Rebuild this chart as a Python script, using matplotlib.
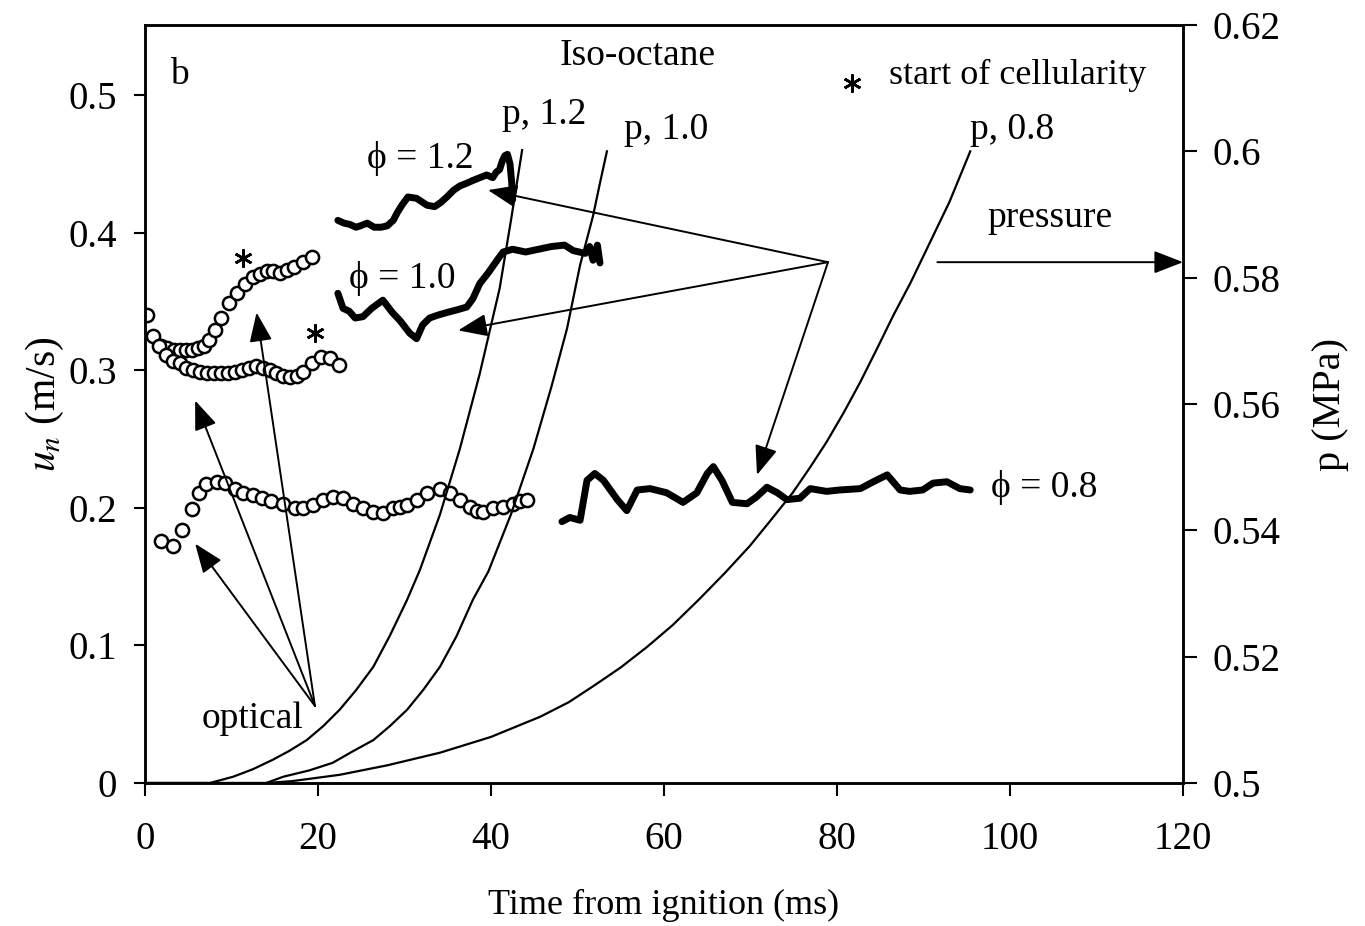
import matplotlib
matplotlib.use("Agg")
import matplotlib.pyplot as plt

plt.rcParams['font.family'] = ['Liberation Serif', 'DejaVu Serif']
plt.rcParams['mathtext.fontset'] = 'stix'

# optical flame speeds (circles)
opt12_t = [0.2, 0.9, 1.8, 2.6, 3.3, 4.0, 4.7, 5.4, 6.1, 6.8, 7.4, 8.1, 8.8, 9.7, 10.6, 11.6,
           12.5, 13.3, 14.1, 14.8, 15.6, 16.4, 17.2, 18.3, 19.3]
opt12_u = [0.340, 0.325, 0.318, 0.316, 0.315, 0.315, 0.315, 0.315, 0.316, 0.318, 0.322, 0.329,
           0.338, 0.349, 0.356, 0.363, 0.368, 0.370, 0.372, 0.372, 0.371, 0.373, 0.375, 0.379, 0.382]
opt10_t = [1.6, 2.4, 3.2, 4.0, 4.8, 5.6, 6.4, 7.2, 8.0, 8.8, 9.6, 10.4, 11.2, 12.0, 12.8, 13.6,
           14.4, 15.2, 16.0, 16.8, 17.6, 18.3, 19.3, 20.4, 21.4, 22.4]
opt10_u = [0.318, 0.311, 0.307, 0.305, 0.302, 0.300, 0.299, 0.298, 0.298, 0.298, 0.298, 0.299,
           0.300, 0.302, 0.303, 0.302, 0.300, 0.298, 0.296, 0.295, 0.296, 0.299, 0.305, 0.310,
           0.309, 0.304]
opt08_t = [1.9, 3.2, 4.3, 5.4, 6.3, 7.1, 8.3, 9.2, 10.4, 11.3, 12.5, 13.5, 14.6, 16.0, 17.3, 18.3,
           19.4, 20.6, 21.7, 22.9, 24.0, 25.2, 26.4, 27.5, 28.7, 29.5, 30.3, 31.4, 32.6, 34.1,
           35.3, 36.4, 37.6, 38.4, 39.1, 40.2, 41.4, 42.5, 43.3, 44.2]
opt08_u = [0.176, 0.172, 0.184, 0.199, 0.211, 0.217, 0.219, 0.218, 0.214, 0.211, 0.209, 0.207,
           0.205, 0.203, 0.200, 0.200, 0.202, 0.206, 0.208, 0.207, 0.203, 0.200, 0.197, 0.196,
           0.200, 0.201, 0.202, 0.206, 0.211, 0.214, 0.211, 0.206, 0.201, 0.198, 0.197, 0.200,
           0.201, 0.203, 0.205, 0.206]

# start of cellularity
star_t = [11.3, 19.65]
star_u = [0.3815, 0.327]

# flame speeds from pressure (thick lines)
pr12_t = [22.3, 23.0, 23.7, 24.4, 24.9, 25.7, 26.5, 27.3, 28.0, 28.7, 29.2, 29.7, 30.4, 31.4,
          32.6, 33.5, 34.2, 34.9, 35.7, 36.4, 37.2, 37.9, 38.7, 39.5, 40.2, 40.6, 41.0, 41.3,
          41.6, 41.9, 42.2, 42.4, 42.5]
pr12_u = [0.409, 0.407, 0.406, 0.404, 0.405, 0.407, 0.404, 0.404, 0.405, 0.409, 0.415, 0.420,
          0.426, 0.425, 0.420, 0.419, 0.422, 0.426, 0.431, 0.434, 0.436, 0.438, 0.440, 0.442,
          0.440, 0.444, 0.446, 0.452, 0.456, 0.457, 0.450, 0.436, 0.424]
pr10_t = [22.3, 22.9, 23.6, 24.3, 25.2, 26.2, 27.5, 28.6, 29.5, 30.6, 31.4, 32.1, 32.9, 33.8,
          34.9, 36.1, 37.2, 37.9, 38.7, 39.7, 40.7, 41.4, 42.5, 44.0, 45.5, 47.0, 48.5, 49.5,
          50.9, 51.4, 51.8, 52.3, 52.6]
pr10_u = [0.356, 0.345, 0.343, 0.338, 0.339, 0.345, 0.351, 0.342, 0.336, 0.327, 0.323, 0.333,
          0.338, 0.340, 0.342, 0.344, 0.346, 0.352, 0.363, 0.371, 0.380, 0.386, 0.388, 0.386,
          0.388, 0.390, 0.391, 0.387, 0.385, 0.390, 0.380, 0.391, 0.378]
pr08_t = [48.2, 49.1, 50.3, 51.1, 52.0, 53.0, 54.6, 55.7, 56.9, 58.4, 60.3, 62.2, 63.8, 65.0,
          65.7, 66.7, 67.9, 69.6, 70.7, 71.9, 73.1, 74.2, 75.7, 76.9, 78.8, 80.3, 82.7, 84.2,
          85.8, 87.3, 88.4, 89.9, 91.1, 92.7, 94.2, 95.4]
pr08_u = [0.190, 0.193, 0.191, 0.220, 0.225, 0.220, 0.206, 0.198, 0.213, 0.214, 0.211, 0.204,
          0.211, 0.225, 0.230, 0.220, 0.204, 0.203, 0.208, 0.215, 0.211, 0.206, 0.207, 0.214,
          0.212, 0.213, 0.214, 0.219, 0.224, 0.213, 0.212, 0.213, 0.218, 0.219, 0.214, 0.213]

# pressure traces (right axis)
p12_t = [0, 7.5, 10.2, 12.5, 14.8, 16.7, 18.7, 20.6, 22.5, 24.4, 26.4, 28.3, 30.3, 31.8,
         34.1, 36.4, 38.7, 41.0, 42.3, 43.6]
p12_p = [0.5, 0.5, 0.501, 0.5022, 0.5037, 0.5051, 0.5068, 0.509, 0.5116, 0.5147, 0.5184,
         0.5233, 0.529, 0.5338, 0.5425, 0.5529, 0.5648, 0.5783, 0.589, 0.6002]
p10_t = [0, 14, 16, 19, 21.7, 24, 26.4, 28.3, 30.3, 32.2, 34.1, 36, 37.9, 39.7, 42.3, 44.9,
         47, 48.8, 50.3, 51.8, 52.6, 53.4]
p10_p = [0.5, 0.5, 0.501, 0.502, 0.5032, 0.505, 0.5068, 0.509, 0.5116, 0.5148, 0.5184, 0.5232,
         0.529, 0.5335, 0.5425, 0.5529, 0.5628, 0.572, 0.582, 0.5898, 0.595, 0.6]
p08_t = [0, 14, 17, 22.5, 28, 34.1, 40, 45.7, 49, 52, 55, 58, 61, 64, 67, 69.9, 72.4, 74.9,
         76.9, 78.8, 80.8, 82.7, 84.6, 86.5, 88.5, 90.4, 93, 95.4]
p08_p = [0.5, 0.5, 0.5003, 0.5013, 0.5028, 0.5048, 0.5073, 0.5105, 0.5128, 0.5155, 0.5183,
         0.5215, 0.525, 0.529, 0.5332, 0.5375, 0.5417, 0.546, 0.55, 0.554, 0.5587, 0.5635,
         0.5687, 0.574, 0.5792, 0.5846, 0.592, 0.6]

fig = plt.figure(figsize=(13.65, 9.26), dpi=100)
ax = fig.add_axes([0.1062, 0.1544, 0.7605, 0.8186])
ax2 = ax.twinx()

for s in ax.spines.values():
    s.set_linewidth(1.8)
for s in ax2.spines.values():
    s.set_linewidth(1.8)

mk = dict(ls='none', marker='o', ms=9.5, mfc='white', mec='k', mew=1.8)
ax.plot(opt12_t, opt12_u, **mk)
ax.plot(opt10_t, opt10_u, **mk)
ax.plot(opt08_t, opt08_u, **mk)
ax.plot(star_t, star_u, ls='none', marker=(6, 2, 0), ms=13, mec='k', mew=1.9)
ax.plot([81.7], [0.509], ls='none', marker=(6, 2, 0), ms=13, mec='k', mew=1.9)

for tt, uu in [(pr12_t, pr12_u), (pr10_t, pr10_u), (pr08_t, pr08_u)]:
    ax.plot(tt, uu, color='k', lw=5, solid_capstyle='round', solid_joinstyle='round')

for tt, pp in [(p12_t, p12_p), (p10_t, p10_p), (p08_t, p08_p)]:
    ax2.plot(tt, pp, color='k', lw=1.6)

ax.set_xlim(0, 120)
ax.set_ylim(0, 0.551)
ax2.set_ylim(0.5, 0.62)
ax.set_xticks([0, 20, 40, 60, 80, 100, 120])
ax.set_yticks([0, 0.1, 0.2, 0.3, 0.4, 0.5])
ax.set_yticklabels(['0', '0.1', '0.2', '0.3', '0.4', '0.5'])
ax2.set_yticks([0.5, 0.52, 0.54, 0.56, 0.58, 0.6, 0.62])
ax2.set_yticklabels(['0.5', '0.52', '0.54', '0.56', '0.58', '0.6', '0.62'])

ax.tick_params(axis='x', direction='out', length=9, width=1.5, labelsize=28, pad=18)
ax.tick_params(axis='y', direction='out', length=8, width=1.5, labelsize=28, pad=12)
ax2.tick_params(axis='y', direction='out', length=10, width=1.5, labelsize=28, pad=11)

ax.set_xlabel('Time from ignition (ms)', fontsize=26)
ax.xaxis.label.set_va('center')
ax.xaxis.set_label_coords(0.5, -0.161)
ax.set_ylabel('$u_n$ (m/s)', fontsize=30)
ax.yaxis.label.set_va('center')
ax.yaxis.set_label_coords(-0.096, 0.5)
ax2.set_ylabel('p (MPa)', fontsize=29, rotation=90)
ax2.yaxis.label.set_va('center')
ax2.yaxis.set_label_coords(1.142, 0.5)

fs = 27
txt = dict(ha='center', va='center', fontsize=fs)
ax.text(4.0, 0.515, 'b', **txt)
ax.text(57.0, 0.529, 'Iso-octane', **txt)
ax.text(100.9, 0.5145, 'start of cellularity', ha='center', va='center', fontsize=26)
ax.text(46.2, 0.4855, 'p, 1.2', **txt)
ax.text(60.3, 0.4746, 'p, 1.0', **txt)
ax.text(100.2, 0.4746, 'p, 0.8', **txt)
ax.text(31.8, 0.454, 'ϕ = 1.2', **txt)
ax.text(29.7, 0.367, 'ϕ = 1.0', **txt)
ax.text(104.0, 0.215, 'ϕ = 0.8', **txt)
ax.text(104.6, 0.4106, 'pressure', **txt)
ax.text(12.4, 0.047, 'optical', **txt)

arw = dict(arrowstyle='-|>,head_length=0.9,head_width=0.35', lw=1.4, color='k',
           shrinkA=0, shrinkB=0, mutation_scale=20)
# optical arrows
for tip in [(5.8, 0.278), (12.9, 0.342), (5.8, 0.174)]:
    ax.annotate('', xy=tip, xytext=(19.65, 0.056), arrowprops=arw)
# pressure-derived arrows
for tip in [(39.65, 0.431), (36.2, 0.329), (70.75, 0.224)]:
    ax.annotate('', xy=tip, xytext=(78.96, 0.3786), arrowprops=arw)
ax.annotate('', xy=(120, 0.3786), xytext=(91.6, 0.3786), arrowprops=arw, annotation_clip=False)

fig.savefig('out.png', dpi=100)
